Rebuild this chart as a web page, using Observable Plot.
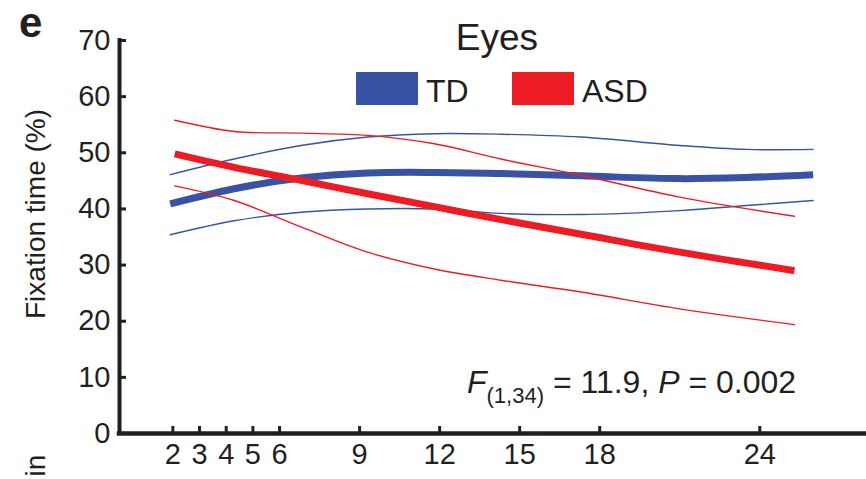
<!DOCTYPE html>
<html>
<head>
<meta charset="utf-8">
<script src="https://cdn.jsdelivr.net/npm/d3@7"></script>
<script src="https://cdn.jsdelivr.net/npm/@observablehq/plot@0.6"></script>
<style>
  html, body { margin: 0; padding: 0; background: #fff; }
  #wrap { width: 866px; height: 479px; }
</style>
</head>
<body>
<div id="wrap"></div>
<script>
// ---- data ----
const xTicks = [2, 3, 4, 5, 6, 9, 12, 15, 18, 24];
const yTicks = [0, 10, 20, 30, 40, 50, 60, 70];

const tdMonths = [1.9, 4.3, 6.8, 9.3, 11.8, 14.3, 17.3, 21.0, 23.5, 26.0];
const tdMean   = [40.9, 43.6, 45.5, 46.4, 46.5, 46.3, 45.9, 45.4, 45.6, 46.1];
const tdUpper  = [46.1, 48.9, 51.3, 52.8, 53.4, 53.3, 52.8, 51.3, 50.6, 50.6];
const tdLower  = [35.4, 37.9, 39.4, 40.0, 40.0, 39.2, 39.0, 39.7, 40.6, 41.5];

const asdMonths = [2.07, 4.3, 6.8, 9.3, 11.8, 14.3, 17.3, 21.0, 25.3];
const asdMean   = [49.8, 47.4, 45.1, 42.7, 40.4, 38.1, 35.5, 32.3, 29.0];
const asdUpper  = [55.8, 53.8, 53.5, 53.1, 51.6, 48.9, 46.0, 42.1, 38.7];
const asdLower  = [44.1, 41.5, 36.8, 32.3, 29.3, 27.3, 25.2, 22.2, 19.4];

const groups = ["TD", "ASD"];
const colors = ["#3953a4", "#ed1c24"];

const title = "Eyes";
const panelLetter = "e";
const yLabel = "Fixation time (%)";
const xLabelFragment = "in";

// ---- build tables ----
const toRows = (months, vals) => months.map((m, i) => ({month: m, value: vals[i]}));
const tdMeanRows = toRows(tdMonths, tdMean);
const tdUpperRows = toRows(tdMonths, tdUpper);
const tdLowerRows = toRows(tdMonths, tdLower);
const asdMeanRows = toRows(asdMonths, asdMean);
const asdUpperRows = toRows(asdMonths, asdUpper);
const asdLowerRows = toRows(asdMonths, asdLower);

const ink = "#231f20";
const font = "'Liberation Sans', Arial, Helvetica, sans-serif";
const curve = "catmull-rom";
const thin = 1.4, thick = 7;

const plot = Plot.plot({
  width: 866,
  height: 479,
  marginLeft: 119,
  marginRight: 0,
  marginTop: 40,
  marginBottom: 46,
  x: {domain: [0, 28]},
  y: {domain: [0, 70]},
  style: {fontFamily: font, fontSize: "29px", color: ink, background: "#fff", overflow: "visible"},
  marks: [
    // tick labels
    Plot.axisX(xTicks, {tickSize: 0, tickPadding: 10, label: null, fill: ink}),
    Plot.axisY(yTicks, {tickSize: 0, tickPadding: 9, label: null, fill: ink}),
    // inward ticks
    Plot.axisX(xTicks, {tickSize: -7, strokeWidth: 3, tickFormat: () => "", label: null, stroke: ink}),
    Plot.axisY(yTicks, {tickSize: -7, strokeWidth: 3, tickFormat: () => "", label: null, stroke: ink}),
    // axis lines
    Plot.ruleX([0], {stroke: ink, strokeWidth: 4, strokeLinecap: "square"}),
    Plot.ruleY([0], {stroke: ink, strokeWidth: 4.5, strokeLinecap: "square"}),
    // TD
    Plot.line(tdUpperRows, {x: "month", y: "value", stroke: colors[0], strokeWidth: thin, curve}),
    Plot.line(tdLowerRows, {x: "month", y: "value", stroke: colors[0], strokeWidth: thin, curve}),
    Plot.line(tdMeanRows, {x: "month", y: "value", stroke: colors[0], strokeWidth: thick, strokeLinecap: "butt", curve}),
    // ASD
    Plot.line(asdUpperRows, {x: "month", y: "value", stroke: colors[1], strokeWidth: thin, curve}),
    Plot.line(asdLowerRows, {x: "month", y: "value", stroke: colors[1], strokeWidth: thin, curve}),
    Plot.line(asdMeanRows, {x: "month", y: "value", stroke: colors[1], strokeWidth: thick, strokeLinecap: "butt", curve}),
    // y label
    Plot.text([yLabel], {frameAnchor: "left", rotate: -90, dx: -75, dy: -23, fontSize: 28, lineAnchor: "bottom", textAnchor: "middle", fill: ink}),
    Plot.text([xLabelFragment], {frameAnchor: "bottom-left", rotate: -90, dx: -75, dy: 32, fontSize: 28, lineAnchor: "bottom", textAnchor: "middle", fill: ink})
  ]
});

// ---- annotations: panel letter, title, legend, statistic ----
const svg = d3.select(plot);
const ann = svg.append("g").attr("font-family", font).attr("fill", ink).attr("text-anchor", "start");

ann.append("text").attr("x", 19).attr("y", 37).attr("font-size", 42).attr("font-weight", "bold").text(panelLetter);
ann.append("text").attr("x", 497).attr("y", 50).attr("font-size", 37).attr("text-anchor", "middle").text(title);

const legendX = [356, 512];
groups.forEach((g, i) => {
  ann.append("rect").attr("x", legendX[i]).attr("y", 72).attr("width", 62).attr("height", 33).attr("fill", colors[i]);
  ann.append("text").attr("x", legendX[i] + 70).attr("y", 102).attr("font-size", 32).text(g);
});

const stat = ann.append("text").attr("x", 467).attr("y", 393).attr("font-size", 32);
stat.append("tspan").attr("font-style", "italic").text("F");
stat.append("tspan").attr("font-size", 22).attr("dy", 10).text("(1,34)");
stat.append("tspan").attr("dy", -10).text(" = 11.9, ");
stat.append("tspan").attr("font-style", "italic").text("P");
stat.append("tspan").text(" = 0.002");

document.getElementById("wrap").appendChild(plot);
</script>
</body>
</html>
